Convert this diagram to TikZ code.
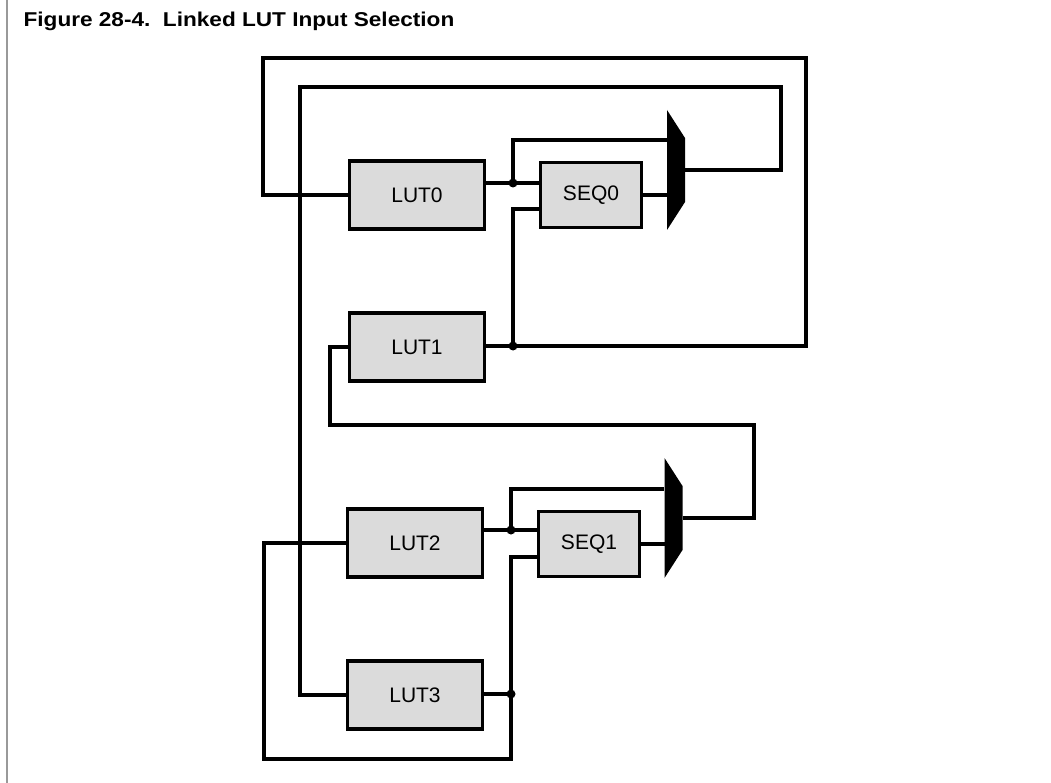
\documentclass[tikz,border=0pt]{standalone}
\usepackage{fontspec}
\setsansfont{Liberation Sans}
\usetikzlibrary{calc}

\begin{document}
\begin{tikzpicture}[x=1pt,y=-1pt,line width=3.2pt,
	lut/.style={draw,fill=black!14,minimum width=135pt,minimum height=68pt,inner sep=0pt,
		font=\sffamily\fontsize{21}{25}\selectfont},
	seq/.style={lut,minimum width=101pt,minimum height=65pt}]
	\def\mux#1#2{\coordinate (#1) at (#2);
		\fill (#1) ++(-9,-60) -- ++(18,28) -- ++(0,64) -- ++(-18,28) -- cycle;
		\path (#1) ++(-9,0) coordinate (#1-w) ++(18,0) coordinate (#1-e);}
	\def\jdot#1{\fill (#1) circle[radius=4.5pt];}
	\useasboundingbox (0,0) rectangle (1051,783);
	% page rule and title
	\draw[line width=1.8pt,black!40] (7,0) -- (7,783);
	\node (title) [anchor=base west,inner sep=0pt,font=\sffamily\bfseries\fontsize{20}{24}\selectfont]
		at (22,27) {\scalebox{1.13}[1]{Figure 28-4.\ \ Linked LUT Input Selection}};
	% blocks
	\node (lut0) [lut] at (417,195) {LUT0};
	\node (lut1) [lut] at (417,347) {LUT1};
	\node (lut2) [lut] at (415,543) {LUT2};
	\node (lut3) [lut] at (415,695) {LUT3};
	\node (seq0) [seq] at (591,195) {SEQ0};
	\node (seq1) [seq] at (589,544) {SEQ1};
	\mux{mux0}{676,170}
	\mux{mux1}{673.5,518}
	% junctions and bends
	\coordinate (j0) at (513,183);
	\coordinate (j1) at (513,346);
	\coordinate (j2) at (511,530);
	\coordinate (j3) at (511,694);
	\coordinate (c0) at (667,140);
	\coordinate (c1) at (664,489);
	\coordinate (d0) at (513,209);
	\coordinate (d1) at (511,557);
	\coordinate (a1) at (806,58);
	\coordinate (a2) at (263,58);
	\coordinate (b1) at (781,87);
	\coordinate (b2) at (300,87);
	\coordinate (e1) at (754,425);
	\coordinate (e2) at (330,425);
	\coordinate (f1) at (511,759);
	\coordinate (f2) at (264,759);
	% upper pair
	\draw (lut0.east |- j0) -- (j0) -- (seq0.west |- j0);
	\draw (j0) |- (c0);
	\draw (j1) -- (d0) -- (seq0.west |- d0);
	\draw (seq0.east) -- (seq0.east -| mux0-w);
	\draw (lut1.east |- j1) -- (j1) -| (a1) -- (a2) |- (lut0.west);
	\draw (mux0-e) -| (b1) -- (b2) |- (lut3.west);
	% lower pair
	\draw (lut2.east |- j2) -- (j2) -- (seq1.west |- j2);
	\draw (j2) |- (c1);
	\draw (j3) -- (d1) -- (seq1.west |- d1);
	\draw (seq1.east) -- (seq1.east -| mux1-w);
	\draw (mux1-e) -| (e1) -- (e2) |- (lut1.west);
	\draw (lut3.east |- j3) -- (j3) -- (f1) -- (f2) |- (lut2.west);
	\jdot{j0}\jdot{j1}\jdot{j2}\jdot{j3}
\end{tikzpicture}
\end{document}
